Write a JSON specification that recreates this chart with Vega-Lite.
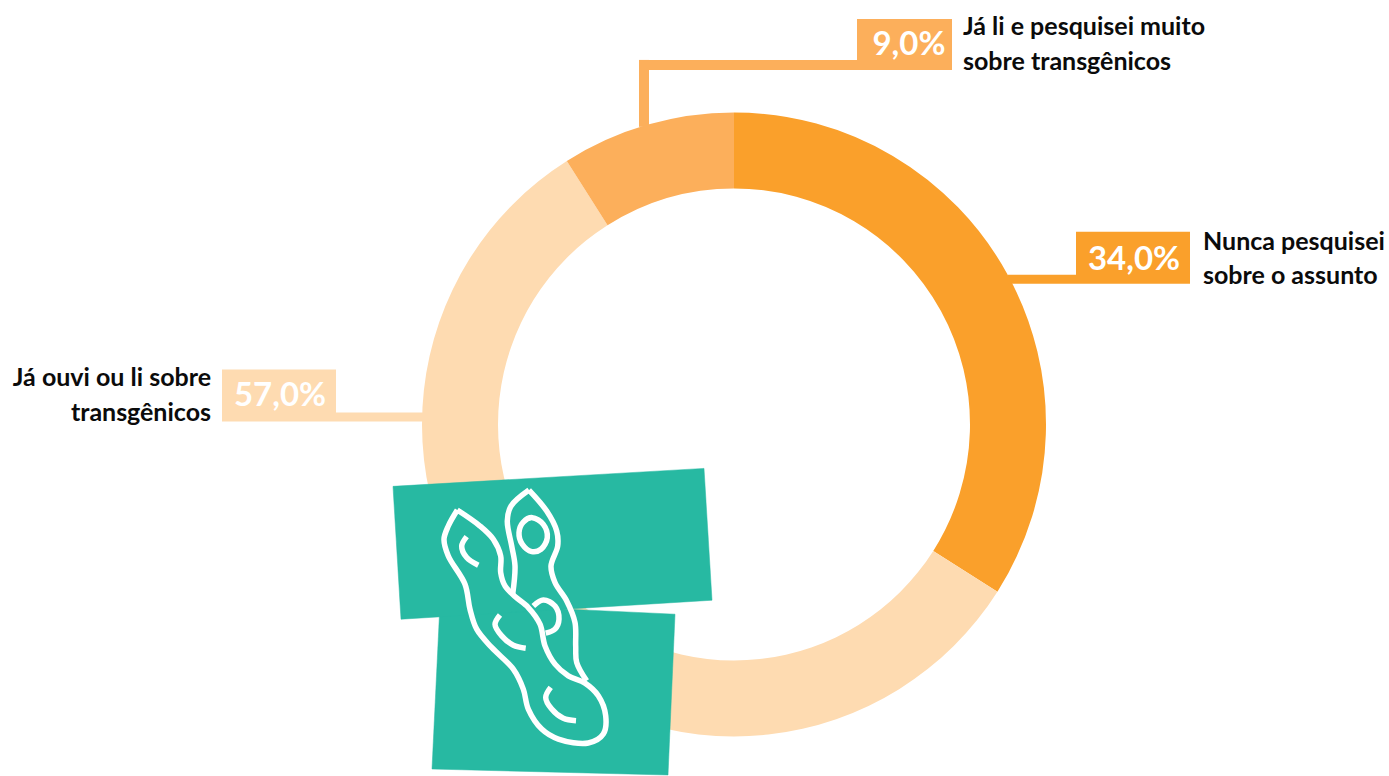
{
  "$schema": "https://vega.github.io/schema/vega-lite/v6.json",
  "width": 1389,
  "height": 776,
  "autosize": {"type": "fit", "contains": "padding"},
  "padding": 0,
  "background": "white",
  "view": {"stroke": null},
  "config": {"axis": {"domain": false, "grid": false, "ticks": false, "labels": false, "title": null}},
  "datasets": {
    "shares": [
      {"answer": "Nunca pesquisei sobre o assunto", "group": "never", "share": 34, "step": 1, "cx": 734, "cy": 425},
      {"answer": "Já ouvi ou li sobre transgênicos", "group": "heard", "share": 57, "step": 2, "cx": 734, "cy": 425},
      {"answer": "Já li e pesquisei muito sobre transgênicos", "group": "read", "share": 9, "step": 3, "cx": 734, "cy": 425}
    ],
    "callouts": [
      {"group": "never", "x": 1076, "x2": 1190, "y": 232, "y2": 284},
      {"group": "never", "x": 1008, "x2": 1076, "y": 275, "y2": 284},
      {"group": "heard", "x": 222, "x2": 336, "y": 370, "y2": 422},
      {"group": "heard", "x": 336, "x2": 424, "y": 413, "y2": 422},
      {"group": "read", "x": 857, "x2": 952, "y": 19, "y2": 70},
      {"group": "read", "x": 639, "x2": 952, "y": 60, "y2": 70},
      {"group": "read", "x": 639, "x2": 649, "y": 60, "y2": 127}
    ],
    "percents": [
      {"text": "34,0%", "x": 1134, "y": 270},
      {"text": "57,0%", "x": 280, "y": 407},
      {"text": "9,0%", "x": 909, "y": 55}
    ],
    "labelsLeft": [
      {"text": "Nunca pesquisei", "x": 1203, "y": 250},
      {"text": "sobre o assunto", "x": 1203, "y": 284},
      {"text": "Já li e pesquisei muito", "x": 963, "y": 35},
      {"text": "sobre transgênicos", "x": 963, "y": 70}
    ],
    "labelsRight": [
      {"text": "Já ouvi ou li sobre", "x": 211, "y": 386},
      {"text": "transgênicos", "x": 211, "y": 422}
    ],
    "patches": [
      {"patch": "b", "i": 1, "x": 440, "y": 604},
      {"patch": "b", "i": 2, "x": 675, "y": 615},
      {"patch": "b", "i": 3, "x": 668, "y": 776},
      {"patch": "b", "i": 4, "x": 432, "y": 770},
      {"patch": "a", "i": 1, "x": 393, "y": 487},
      {"patch": "a", "i": 2, "x": 704, "y": 469},
      {"patch": "a", "i": 3, "x": 712, "y": 601},
      {"patch": "a", "i": 4, "x": 401, "y": 620}
    ],
    "podLines": [
      {"part": "front", "i": 1, "x": 457.3, "y": 510.7},
      {"part": "front", "i": 2, "x": 480, "y": 526.7},
      {"part": "front", "i": 3, "x": 493.3, "y": 540},
      {"part": "front", "i": 4, "x": 500.7, "y": 556.7},
      {"part": "front", "i": 5, "x": 500.7, "y": 573.3},
      {"part": "front", "i": 6, "x": 505, "y": 586.7},
      {"part": "front", "i": 7, "x": 515, "y": 597.3},
      {"part": "front", "i": 8, "x": 528.3, "y": 608.3},
      {"part": "front", "i": 9, "x": 540, "y": 625},
      {"part": "front", "i": 10, "x": 545, "y": 646.7},
      {"part": "front", "i": 11, "x": 555, "y": 665},
      {"part": "front", "i": 12, "x": 568.3, "y": 676.7},
      {"part": "front", "i": 13, "x": 585, "y": 684},
      {"part": "front", "i": 14, "x": 598.3, "y": 696.7},
      {"part": "front", "i": 15, "x": 605.7, "y": 716.7},
      {"part": "front", "i": 16, "x": 603.3, "y": 735},
      {"part": "front", "i": 17, "x": 588.3, "y": 744},
      {"part": "front", "i": 18, "x": 558.3, "y": 740},
      {"part": "front", "i": 19, "x": 541.7, "y": 730},
      {"part": "front", "i": 20, "x": 528.3, "y": 710},
      {"part": "front", "i": 21, "x": 523.3, "y": 690},
      {"part": "front", "i": 22, "x": 513.3, "y": 670},
      {"part": "front", "i": 23, "x": 491.7, "y": 648.3},
      {"part": "front", "i": 24, "x": 476.7, "y": 630},
      {"part": "front", "i": 25, "x": 470, "y": 610},
      {"part": "front", "i": 26, "x": 465, "y": 585},
      {"part": "front", "i": 27, "x": 448.3, "y": 556.7},
      {"part": "front", "i": 28, "x": 444, "y": 540},
      {"part": "front", "i": 29, "x": 448.3, "y": 526.7},
      {"part": "front", "i": 30, "x": 457.3, "y": 510.7},
      {"part": "backRight", "i": 1, "x": 529, "y": 490.7},
      {"part": "backRight", "i": 2, "x": 546.7, "y": 511.7},
      {"part": "backRight", "i": 3, "x": 556.7, "y": 531.7},
      {"part": "backRight", "i": 4, "x": 557.7, "y": 546.7},
      {"part": "backRight", "i": 5, "x": 551, "y": 566.7},
      {"part": "backRight", "i": 6, "x": 555, "y": 583.3},
      {"part": "backRight", "i": 7, "x": 566.7, "y": 601.7},
      {"part": "backRight", "i": 8, "x": 575, "y": 623.3},
      {"part": "backRight", "i": 9, "x": 575.7, "y": 646.7},
      {"part": "backRight", "i": 10, "x": 576.7, "y": 663.3},
      {"part": "backRight", "i": 11, "x": 586.7, "y": 681.7},
      {"part": "backLeft", "i": 1, "x": 529, "y": 490.7},
      {"part": "backLeft", "i": 2, "x": 511, "y": 506.7},
      {"part": "backLeft", "i": 3, "x": 507.3, "y": 521.7},
      {"part": "backLeft", "i": 4, "x": 511.7, "y": 546.7},
      {"part": "backLeft", "i": 5, "x": 515, "y": 566.7},
      {"part": "backLeft", "i": 6, "x": 512.7, "y": 595},
      {"part": "seedHalf", "i": 1, "x": 533.3, "y": 606.7},
      {"part": "seedHalf", "i": 2, "x": 543.3, "y": 600.7},
      {"part": "seedHalf", "i": 3, "x": 555, "y": 606.7},
      {"part": "seedHalf", "i": 4, "x": 559, "y": 620},
      {"part": "seedHalf", "i": 5, "x": 555, "y": 630},
      {"part": "seedHalf", "i": 6, "x": 545.7, "y": 634},
      {"part": "curveTop", "i": 1, "x": 466.7, "y": 537.3},
      {"part": "curveTop", "i": 2, "x": 461.7, "y": 546.7},
      {"part": "curveTop", "i": 3, "x": 466.7, "y": 558.3},
      {"part": "curveTop", "i": 4, "x": 478.3, "y": 566},
      {"part": "curveMid", "i": 1, "x": 500, "y": 615.7},
      {"part": "curveMid", "i": 2, "x": 495, "y": 625},
      {"part": "curveMid", "i": 3, "x": 501.7, "y": 636.7},
      {"part": "curveMid", "i": 4, "x": 513.3, "y": 646},
      {"part": "curveMid", "i": 5, "x": 525.7, "y": 649},
      {"part": "curveLow", "i": 1, "x": 550.7, "y": 688.3},
      {"part": "curveLow", "i": 2, "x": 545.7, "y": 698.3},
      {"part": "curveLow", "i": 3, "x": 551.7, "y": 710},
      {"part": "curveLow", "i": 4, "x": 563.3, "y": 719.3},
      {"part": "curveLow", "i": 5, "x": 576, "y": 721.7}
    ],
    "seedRing": [
      {"i": 1, "x": 532.3, "y": 518.3},
      {"i": 2, "x": 543.3, "y": 525},
      {"i": 3, "x": 547.3, "y": 538.3},
      {"i": 4, "x": 541, "y": 550},
      {"i": 5, "x": 531.7, "y": 552.3},
      {"i": 6, "x": 522.3, "y": 545},
      {"i": 7, "x": 519, "y": 533.3},
      {"i": 8, "x": 523.3, "y": 522.7}
    ]
  },
  "layer": [
    {
      "data": {"name": "shares"},
      "mark": {"type": "arc", "radius": 312, "radius2": 236},
      "encoding": {
        "x": {"field": "cx", "type": "quantitative", "scale": {"domain": [0, 1389], "nice": false, "zero": false}, "axis": null},
        "y": {"field": "cy", "type": "quantitative", "scale": {"domain": [776, 0], "nice": false, "zero": false}, "axis": null},
        "theta": {"field": "share", "type": "quantitative", "stack": true, "scale": {"domain": [0, 100]}},
        "order": {"field": "step"},
        "color": {"field": "group", "type": "nominal", "legend": null, "scale": {"domain": ["never", "heard", "read"], "range": ["#FAA02B", "#FEDBB1", "#FCAF5B"]}}
      }
    },
    {
      "data": {"name": "callouts"},
      "mark": {"type": "rect"},
      "encoding": {
        "x": {"field": "x", "type": "quantitative"},
        "x2": {"field": "x2"},
        "y": {"field": "y", "type": "quantitative"},
        "y2": {"field": "y2"},
        "color": {"field": "group", "type": "nominal", "legend": null}
      }
    },
    {
      "data": {"name": "percents"},
      "mark": {"type": "text", "font": "Lato", "fontWeight": "bold", "fontSize": 33, "align": "center", "baseline": "alphabetic", "color": "white"},
      "encoding": {
        "x": {"field": "x", "type": "quantitative"},
        "y": {"field": "y", "type": "quantitative"},
        "text": {"field": "text"}
      }
    },
    {
      "data": {"name": "labelsLeft"},
      "mark": {"type": "text", "font": "Lato", "fontWeight": "bold", "fontSize": 25, "align": "left", "baseline": "alphabetic", "color": "#0b0b0b"},
      "encoding": {
        "x": {"field": "x", "type": "quantitative"},
        "y": {"field": "y", "type": "quantitative"},
        "text": {"field": "text"}
      }
    },
    {
      "data": {"name": "labelsRight"},
      "mark": {"type": "text", "font": "Lato", "fontWeight": "bold", "fontSize": 25, "align": "right", "baseline": "alphabetic", "color": "#0b0b0b"},
      "encoding": {
        "x": {"field": "x", "type": "quantitative"},
        "y": {"field": "y", "type": "quantitative"},
        "text": {"field": "text"}
      }
    },
    {
      "data": {"name": "patches"},
      "mark": {"type": "line", "fill": "#27B9A2", "stroke": "#27B9A2", "strokeWidth": 0.5, "interpolate": "linear-closed"},
      "encoding": {
        "x": {"field": "x", "type": "quantitative"},
        "y": {"field": "y", "type": "quantitative"},
        "detail": {"field": "patch"},
        "order": {"field": "i"}
      }
    },
    {
      "data": {"name": "podLines"},
      "mark": {"type": "line", "stroke": "white", "strokeWidth": 5.5, "interpolate": "catmull-rom", "strokeJoin": "round"},
      "encoding": {
        "x": {"field": "x", "type": "quantitative"},
        "y": {"field": "y", "type": "quantitative"},
        "detail": {"field": "part"},
        "order": {"field": "i"}
      }
    },
    {
      "data": {"name": "seedRing"},
      "mark": {"type": "line", "stroke": "white", "strokeWidth": 5.5, "interpolate": "catmull-rom-closed"},
      "encoding": {
        "x": {"field": "x", "type": "quantitative"},
        "y": {"field": "y", "type": "quantitative"},
        "order": {"field": "i"}
      }
    }
  ]
}
